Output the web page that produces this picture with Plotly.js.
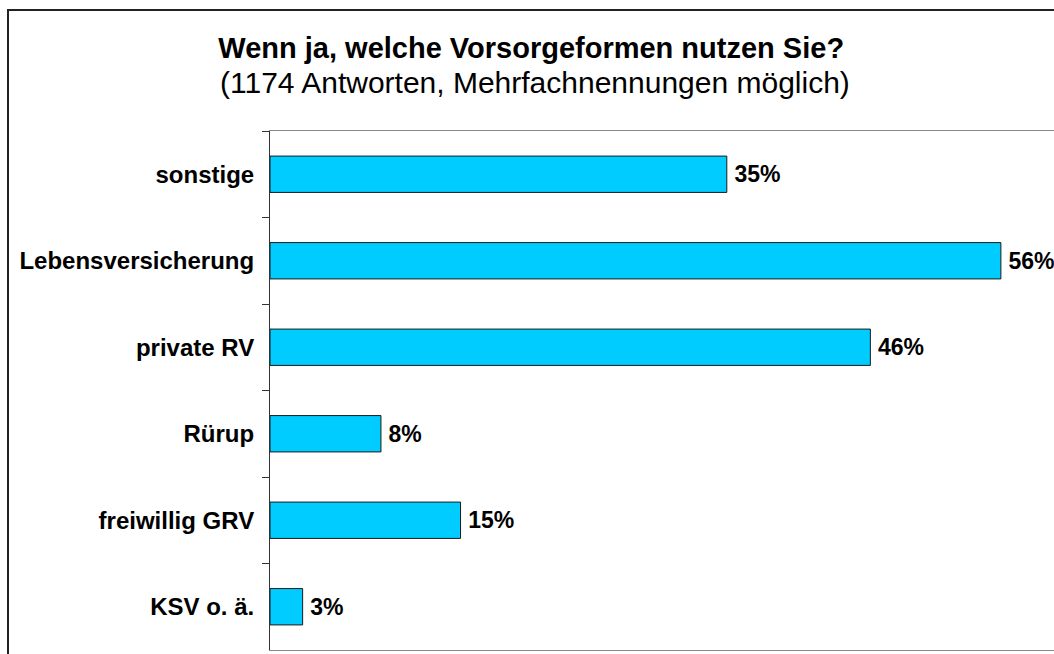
<!DOCTYPE html>
<html>
<head>
<meta charset="utf-8">
<script src="https://cdn.plot.ly/plotly-3.0.1.min.js"></script>
<style>
html,body{margin:0;padding:0;background:#fff;overflow:hidden;}
#wrap{position:relative;width:1054px;height:654px;overflow:hidden;}
#chart{width:1054px;height:654px;}
#frame{position:absolute;left:7px;top:9px;width:1200px;height:800px;border-left:2px solid #222;border-top:2px solid #222;pointer-events:none;}
</style>
</head>
<body>
<div id="wrap">
<div id="chart"></div>
<div id="frame"></div>
</div>
<script>
// Data (top to bottom as in the reference)
const categories = ["sonstige", "Lebensversicherung", "private RV", "Rürup", "freiwillig GRV", "KSV o. ä."];
// bar lengths (percent)
const barValues = [35, 56, 46, 8.5, 14.6, 2.5];
// printed data labels
const labelValues = ["35%", "56%", "46%", "8%", "15%", "3%"];
const titleMain = "Wenn ja, welche Vorsorgeformen nutzen Sie?";
const titleSub = "(1174 Antworten, Mehrfachnennungen möglich)";

const FONT = "Liberation Sans, Arial, sans-serif";

const trace = {
  type: "bar",
  orientation: "h",
  y: categories,
  x: barValues,
  marker: {color: "#00CCFF", line: {color: "#1a1a1a", width: 1}},
  text: labelValues.map(t => "\u2009" + t),
  textposition: "outside",
  textfont: {family: FONT, size: 23, color: "#000", weight: "bold"},
  constraintext: "none",
  cliponaxis: false,
  hoverinfo: "skip",
  width: 0.42
};

const layout = {
  width: 1054,
  height: 654,
  margin: {l: 270, r: 0, t: 131, b: 4, pad: 0},
  paper_bgcolor: "#fff",
  plot_bgcolor: "#fff",
  showlegend: false,
  font: {family: FONT, color: "#000"},
  title: {
    text: "<b>" + titleMain + "</b>",
    font: {family: FONT, size: 29, color: "#000"},
    x: 0.504, xref: "container", xanchor: "center",
    y: 0.943, yref: "container", yanchor: "top"
  },
  annotations: [{
    text: titleSub,
    xref: "paper", yref: "paper",
    x: (535 - 270) / 784, y: 1 + (131 - 82) / 519,
    xanchor: "center", yanchor: "middle",
    showarrow: false,
    font: {family: FONT, size: 30, color: "#000"}
  }],
  xaxis: {
    range: [0, 60.07],
    showgrid: false, zeroline: false,
    showticklabels: false, ticks: "",
    showline: true, mirror: true, linecolor: "#888", linewidth: 1,
    fixedrange: true
  },
  yaxis: {
    type: "category",
    autorange: "reversed",
    showgrid: false, zeroline: false,
    showline: true, linecolor: "#333", linewidth: 1,
    ticks: "outside", tickson: "boundaries", ticklen: 7, tickcolor: "#333",
    ticklabelstandoff: 10,
    tickfont: {family: FONT, size: 24, color: "#000", weight: "bold"},
    fixedrange: true
  },
  bargap: 0.58
};

Plotly.newPlot("chart", [trace], layout, {displayModeBar: false, staticPlot: true});
</script>
</body>
</html>
